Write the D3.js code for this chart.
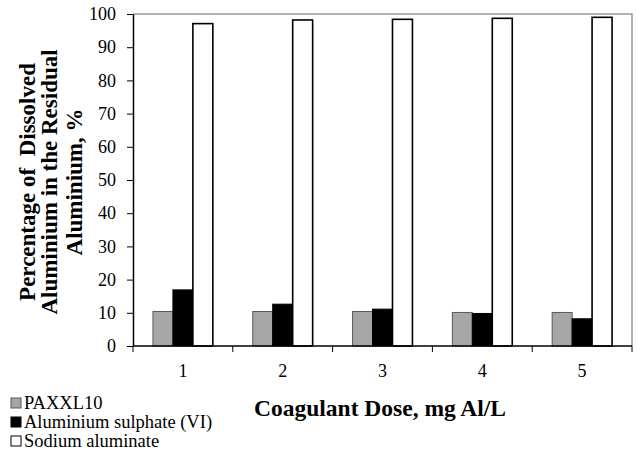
<!DOCTYPE html>
<html>
<head>
<meta charset="utf-8">
<script src="https://cdn.jsdelivr.net/npm/d3@7/dist/d3.min.js"></script>
<style>
  body { margin: 0; background: #fff; }
  svg { display: block; }
  svg text { font-family: "Liberation Serif", "Times New Roman", serif; }
</style>
</head>
<body>
<svg id="chart" width="638" height="457"></svg>
<script>
// coagulant doses on the x axis
const doses = ['1', '2', '3', '4', '5']
const seriesNames = ['PAXXL10', 'Aluminium sulphate (VI)', 'Sodium aluminate']
// percentage of dissolved aluminium
const paxxl10 = [10.4, 10.4, 10.4, 10.1, 10.1]
const alumSulphate = [16.9, 12.6, 11.1, 9.8, 8.2]
const sodiumAluminate = [97.1, 98.2, 98.4, 98.7, 99.0]
const yTicks = [0, 10, 20, 30, 40, 50, 60, 70, 80, 90, 100]

const fills = ['#a6a6a6', '#000000', '#ffffff']
const strokes = ['#595959', '#000000', '#000000']

const svg = d3.select('#chart')
const plotLeft = 133, plotRight = 632, plotTop = 14, plotBottom = 346

const x0 = d3.scaleBand().domain(doses).range([plotLeft, plotRight]).paddingInner(0.4).paddingOuter(0.2)
const x1 = d3.scaleBand().domain(d3.range(3)).range([0, x0.bandwidth()])
const y = d3.scaleLinear().domain([0, 100]).range([plotBottom, plotTop])

// frame: top and right in grey
svg.append('path')
  .attr('d', `M${plotLeft},${plotTop}H${plotRight}V${plotBottom}`)
  .attr('fill', 'none').attr('stroke', '#999').attr('stroke-width', 1.5)

const rows = doses.map((d, i) => [paxxl10[i], alumSulphate[i], sodiumAluminate[i]])

svg.append('g').selectAll('g')
  .data(rows)
  .join('g')
  .attr('transform', (d, i) => `translate(${x0(doses[i])},0)`)
  .selectAll('rect')
  .data(d => d.map((v, k) => ({ v, k })))
  .join('rect')
  .attr('x', d => x1(d.k))
  .attr('width', x1.bandwidth())
  .attr('y', d => y(d.v))
  .attr('height', d => y(0) - y(d.v))
  .attr('fill', d => fills[d.k])
  .attr('stroke', d => strokes[d.k])
  .attr('stroke-width', d => d.k === 2 ? 1.6 : 1)

// y axis
const yAxis = svg.append('g')
  .attr('transform', `translate(${plotLeft},0)`)
  .call(d3.axisLeft(y).tickValues(yTicks).tickSize(6).tickPadding(11).tickSizeOuter(0))
yAxis.select('.domain').attr('stroke-width', 1.5)
yAxis.selectAll('text').attr('font-size', 18).attr('font-family', 'Liberation Serif').attr('fill', '#000')

// x axis with ticks between groups
const xAxis = svg.append('g').attr('transform', `translate(0,${plotBottom})`)
xAxis.append('line').attr('x1', plotLeft).attr('x2', plotRight).attr('stroke', '#000').attr('stroke-width', 1.5)
const step = x0.step()
xAxis.selectAll('line.tk')
  .data(d3.range(doses.length + 1))
  .join('line')
  .attr('class', 'tk')
  .attr('x1', i => plotLeft + i * step).attr('x2', i => plotLeft + i * step)
  .attr('y1', 0).attr('y2', 6)
  .attr('stroke', '#000')
xAxis.selectAll('text')
  .data(doses)
  .join('text')
  .attr('x', d => x0(d) + x0.bandwidth() / 2)
  .attr('y', 31)
  .attr('text-anchor', 'middle')
  .attr('font-size', 18)
  .text(d => d)

// axis titles
svg.append('text')
  .attr('x', 380).attr('y', 416)
  .attr('text-anchor', 'middle')
  .attr('font-size', 23.5).attr('font-weight', 'bold')
  .text('Coagulant Dose, mg Al/L')

const yTitle = ['Percentage of  Dissolved', 'Aluminium in the Residual', 'Aluminium, %']
const yTitleBase = [35, 57, 82]
svg.append('g')
  .attr('transform', 'translate(0,182) rotate(-90)')
  .selectAll('text')
  .data(yTitle)
  .join('text')
  .attr('x', 0)
  .attr('y', (d, i) => yTitleBase[i])
  .attr('text-anchor', 'middle')
  .attr('font-size', 23).attr('font-weight', 'bold')
  .style('white-space', 'pre')
  .text(d => d)

// legend
const legend = svg.append('g').selectAll('g')
  .data(seriesNames)
  .join('g')
  .attr('transform', (d, i) => `translate(11,${398 + i * 19})`)
legend.append('rect')
  .attr('width', 10).attr('height', 10)
  .attr('fill', (d, i) => fills[i])
  .attr('stroke', (d, i) => strokes[i])
legend.append('text')
  .attr('x', 13).attr('y', 11)
  .attr('font-size', 18.5)
  .text(d => d)
</script>
</body>
</html>
